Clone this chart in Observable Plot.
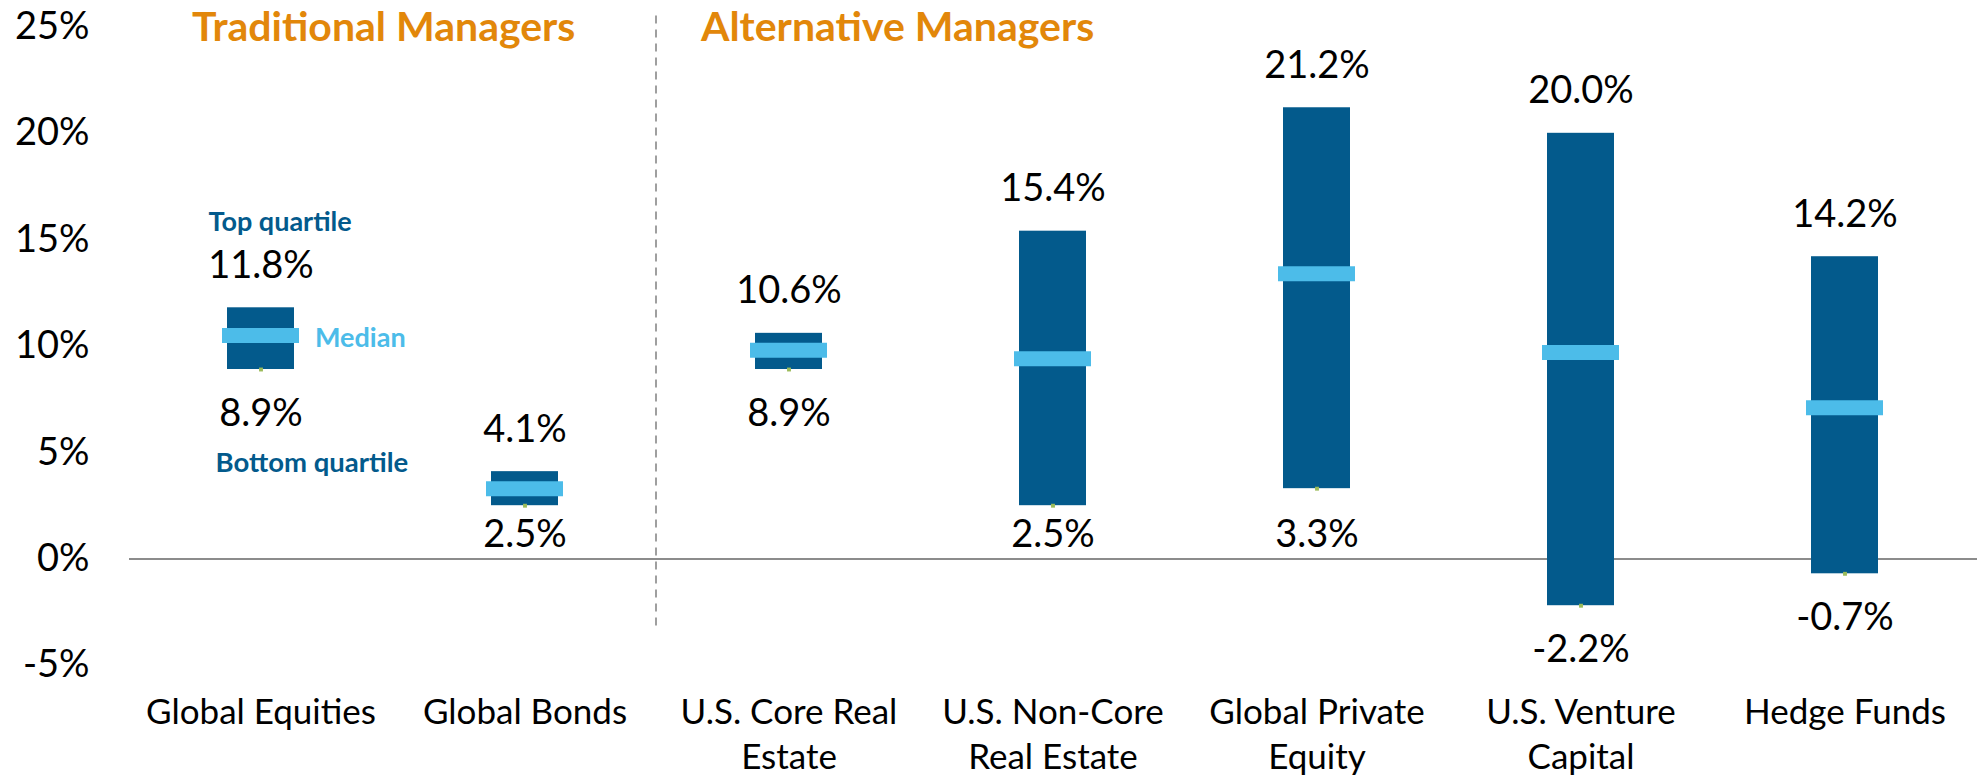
<!DOCTYPE html>
<html><head><meta charset="utf-8">
<script src="https://cdn.jsdelivr.net/npm/d3@7"></script>
<script src="https://cdn.jsdelivr.net/npm/@observablehq/plot@0.6"></script>
<style>body{margin:0;background:#fff;} svg{display:block;}</style>
</head><body><div id="chart"></div>
<script>
const categories = ["Global Equities","Global Bonds","U.S. Core Real Estate","U.S. Non-Core Real Estate","Global Private Equity","U.S. Venture Capital","Hedge Funds"];
const labelLine1 = ["Global Equities","Global Bonds","U.S. Core Real","U.S. Non-Core","Global Private","U.S. Venture","Hedge Funds"];
const labelLine2 = ["","","Estate","Real Estate","Equity","Capital",""];
const topQuartile = [11.8, 4.1, 10.6, 15.4, 21.2, 20.0, 14.2];
const median = [10.5, 3.3, 9.8, 9.4, 13.4, 9.7, 7.1];
const bottomQuartile = [8.9, 2.5, 8.9, 2.5, 3.3, -2.2, -0.7];
const groupLabels = ["Traditional Managers", "Alternative Managers"];
const groupFirst = ["Global Equities", "U.S. Core Real Estate"];
const annotationLabels = ["Top quartile", "Median", "Bottom quartile"];
const yTicks = [-5, 0, 5, 10, 15, 20, 25];

const data = categories.map((c, i) => ({cat: c, top: topQuartile[i], med: median[i], bot: bottomQuartile[i], l1: labelLine1[i], l2: labelLine2[i]}));
const fmt = v => v.toFixed(1) + "%";
const nearZero = d => d.bot > 0 && d.bot < 4;
const first = data[0];

const DARK = "#035A8C", LIGHT = "#4CBCE9", ORANGE = "#E2870A";

const plot = Plot.plot({
  width: 1979, height: 779,
  marginTop: 26.4, marginBottom: 114.2, marginLeft: 129, marginRight: 2,
  style: {fontFamily: "Lato, sans-serif", background: "#fff", color: "#000", overflow: "visible"},
  x: {domain: categories, paddingInner: 0.746, paddingOuter: 0.373, axis: null},
  y: {domain: [-5, 25], axis: null},
  marks: [
    Plot.axisY(yTicks, {tickSize: 0, tickPadding: 40, tickFormat: d => d + "%", fontSize: 38, fill: "#000"}),
    Plot.text(data, {x: "cat", frameAnchor: "bottom", text: "l1", lineAnchor: "bottom", dy: 58.2, fontSize: 35, fill: "#000"}),
    Plot.text(data.filter(d => d.l2), {x: "cat", frameAnchor: "bottom", text: "l2", lineAnchor: "bottom", dy: 103.2, fontSize: 35, fill: "#000"}),
    Plot.ruleY([0], {stroke: "#8c8c8c", strokeWidth: 2}),
    Plot.ruleX([groupFirst[1]], {dx: -133, stroke: "#808080", strokeWidth: 1.5, strokeDasharray: "8,6", insetTop: -11, insetBottom: 35}),
    Plot.barY(data, {x: "cat", y1: "bot", y2: "top", fill: DARK}),
    Plot.tickY(data, {x: "cat", y: "med", stroke: LIGHT, strokeWidth: 15, insetLeft: -5, insetRight: -5}),
    Plot.dot(data, {x: "cat", y: "bot", r: 2.2, symbol: "square", fill: "#9BBB59"}),
    Plot.text(data, {x: "cat", y: "top", text: d => fmt(d.top), lineAnchor: "bottom", dy: -30, fontSize: 38, fill: "#000"}),
    Plot.text(data.filter(d => !nearZero(d)), {x: "cat", y: "bot", text: d => fmt(d.bot), lineAnchor: "bottom", dy: 56, fontSize: 38, fill: "#000"}),
    Plot.text(data.filter(nearZero), {x: "cat", y: () => 0, text: d => fmt(d.bot), lineAnchor: "bottom", dy: -12, fontSize: 38, fill: "#000"}),
    Plot.text([first], {x: "cat", y: "top", text: () => annotationLabels[0], textAnchor: "start", lineAnchor: "bottom", dx: -52.5, dy: -77, fontSize: 27, fontWeight: "bold", fill: DARK}),
    Plot.text([first], {x: "cat", y: "med", text: () => annotationLabels[1], textAnchor: "start", lineAnchor: "middle", dx: 54, dy: 3, fontSize: 27, fontWeight: "bold", fill: LIGHT}),
    Plot.text([first], {x: "cat", y: "bot", text: () => annotationLabels[2], textAnchor: "start", lineAnchor: "bottom", dx: -45.5, dy: 102, fontSize: 27.5, fontWeight: "bold", fill: DARK}),
    Plot.text([groupFirst[0]], {x: d => d, y: () => 25, text: () => groupLabels[0], textAnchor: "start", lineAnchor: "bottom", dx: -69, dy: 13.6, fontSize: 41, fontWeight: "bold", fill: ORANGE}),
    Plot.text([groupFirst[1]], {x: d => d, y: () => 25, text: () => groupLabels[1], textAnchor: "start", lineAnchor: "bottom", dx: -88, dy: 13.6, fontSize: 41, fontWeight: "bold", fill: ORANGE})
  ]
});
document.getElementById("chart").appendChild(plot);
</script>
</body></html>
